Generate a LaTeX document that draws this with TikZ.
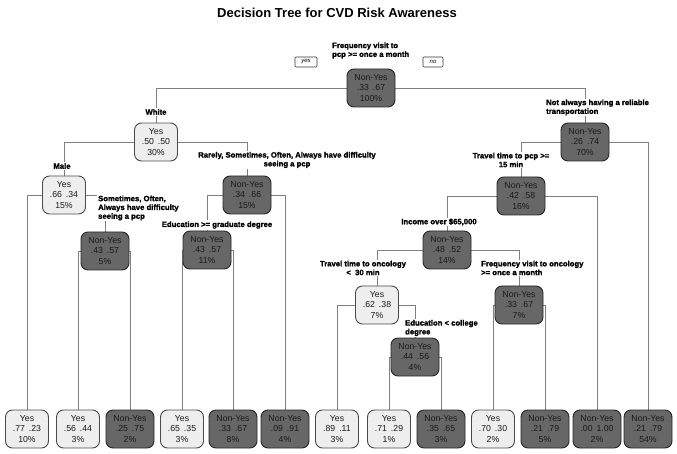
\documentclass[tikz,border=0pt]{standalone}
\usepackage{fontspec}
\setmainfont{Liberation Sans}
\newfontfamily\labfont[BoldFeatures={FakeBold=1.6}]{Liberation Sans}
\usetikzlibrary{backgrounds}
\definecolor{lightfill}{HTML}{EEEEEE}
\definecolor{lightborder}{HTML}{4A4A4A}
\definecolor{darkfill}{HTML}{676767}
\definecolor{nodetext}{HTML}{1A1A1A}
\definecolor{linegray}{HTML}{808080}
\begin{document}
\begin{tikzpicture}[x=1pt,y=-1pt,
 base/.style={rounded corners=7pt, align=center, inner sep=1pt, minimum height=38pt, font=\fontsize{8.7}{10.5}\selectfont, line width=0.9pt},
 ynode/.style={base, fill=lightfill, draw=lightborder, minimum width=43pt, text=nodetext},
 nnode/.style={base, fill=darkfill, draw=black!85, minimum width=48pt, text=nodetext},
 lab/.style={fill=white, inner sep=1pt, font=\labfont\fontsize{7.7}{8.8}\selectfont\bfseries},
 edge/.style={draw=linegray, line width=0.9pt},
 tag/.style={draw=black!80, rounded corners=1pt, inner sep=0pt, minimum height=10pt, font=\fontsize{6}{6}\selectfont\itshape, line width=0.6pt}]
\useasboundingbox (0,0) rectangle (677,454);
% title
\node[font=\fontsize{13}{15}\selectfont\bfseries] (title) at (337,13) {Decision Tree for CVD Risk Awareness};
% internal nodes
\node[nnode] (root) at (371,88) {Non-Yes\\.33\hspace{4pt}.67\\100\%};
\node[ynode] (white) at (156,142) {Yes\\.50\hspace{4pt}.50\\30\%};
\node[nnode] (transp) at (585,142) {Non-Yes\\.26\hspace{4pt}.74\\70\%};
\node[ynode] (male) at (64,195) {Yes\\.66\hspace{4pt}.34\\15\%};
\node[nnode] (n15) at (247,195) {Non-Yes\\.34\hspace{4pt}.66\\15\%};
\node[nnode] (travel) at (521,196) {Non-Yes\\.42\hspace{4pt}.58\\16\%};
\node[nnode] (n5) at (105,251) {Non-Yes\\.43\hspace{4pt}.57\\5\%};
\node[nnode] (n11) at (207,250) {Non-Yes\\.43\hspace{4pt}.57\\11\%};
\node[nnode] (income) at (447,250) {Non-Yes\\.48\hspace{4pt}.52\\14\%};
\node[ynode] (onc) at (377,305) {Yes\\.62\hspace{4pt}.38\\7\%};
\node[nnode] (n7) at (519,305) {Non-Yes\\.33\hspace{4pt}.67\\7\%};
\node[nnode] (n4) at (415,357) {Non-Yes\\.44\hspace{4pt}.56\\4\%};
% leaves
\node[ynode] (l1) at (27,429) {Yes\\.77\hspace{4pt}.23\\10\%};
\node[ynode] (l2) at (78,429) {Yes\\.56\hspace{4pt}.44\\3\%};
\node[nnode] (l3) at (130,429) {Non-Yes\\.25\hspace{4pt}.75\\2\%};
\node[ynode] (l4) at (182,429) {Yes\\.65\hspace{4pt}.35\\3\%};
\node[nnode] (l5) at (233,429) {Non-Yes\\.33\hspace{4pt}.67\\8\%};
\node[nnode] (l6) at (285,429) {Non-Yes\\.09\hspace{4pt}.91\\4\%};
\node[ynode] (l7) at (337,429) {Yes\\.89\hspace{4pt}.11\\3\%};
\node[ynode] (l8) at (389,429) {Yes\\.71\hspace{4pt}.29\\1\%};
\node[nnode] (l9) at (441,429) {Non-Yes\\.35\hspace{4pt}.65\\3\%};
\node[ynode] (l10) at (493,429) {Yes\\.70\hspace{4pt}.30\\2\%};
\node[nnode] (l11) at (545,429) {Non-Yes\\.21\hspace{4pt}.79\\5\%};
\node[nnode] (l12) at (597,429) {Non-Yes\\.00\hspace{4pt}1.00\\2\%};
\node[nnode] (l13) at (648,429) {Non-Yes\\.21\hspace{4pt}.79\\54\%};
% split labels
\node[lab, anchor=west, align=left] (q1) at (331,50.5) {Frequency visit to\\pcp >= once a month};
\node[tag, minimum width=22pt] (yes) at (306,62) {yes};
\node[tag, minimum width=20pt] (no) at (433,62) {no};
\node[lab] (q2) at (156,112) {White};
\node[lab, anchor=west, align=left] (q3) at (545,107.5) {Not always having a reliable\\transportation};
\node[lab] (q4) at (62,166) {Male};
\node[lab, align=center] (q5) at (287,160) {Rarely, Sometimes, Often, Always have difficulty\\seeing a pcp};
\node[lab, anchor=west, align=left] (q6) at (97,208) {Sometimes, Often,\\Always have difficulty\\seeing a pcp};
\node[lab] (q7) at (217,225) {Education >= graduate degree};
\node[lab, align=center] (q8) at (511,160) {Travel time to pcp >=\\15 min};
\node[lab] (q9) at (439,222) {Income over \$65,000};
\node[lab, align=center] (q10) at (363,268) {Travel time to oncology\\<\ \ 30 min};
\node[lab, anchor=west, align=left] (q11) at (480,268) {Frequency visit to oncology\\>= once a month};
\node[lab, anchor=west, align=left] (q12) at (404,328) {Education < college\\degree};
% connectors
\begin{scope}[on background layer]
\draw[edge] (root.center) -| (white.north);
\draw[edge] (root.center) -| (transp.north);
\draw[edge] (white.center) -| (male.north);
\draw[edge] (white.center) -| (n15.north);
\draw[edge] (male.center) -| (l1.north);
\draw[edge] (male.center) -| (n5.north);
\draw[edge] (n5.center) -| (l2.north);
\draw[edge] (n5.center) -| (l3.north);
\draw[edge] (n15.center) -| (n11.north);
\draw[edge] (n15.center) -| (l6.north);
\draw[edge] (n11.center) -| (l4.north);
\draw[edge] (n11.center) -| (l5.north);
\draw[edge] (transp.center) -| (travel.north);
\draw[edge] (transp.center) -| (l13.north);
\draw[edge] (travel.center) -| (income.north);
\draw[edge] (travel.center) -| (l12.north);
\draw[edge] (income.center) -| (onc.north);
\draw[edge] (income.center) -| (n7.north);
\draw[edge] (onc.center) -| (l7.north);
\draw[edge] (onc.center) -| (n4.north);
\draw[edge] (n4.center) -| (l8.north);
\draw[edge] (n4.center) -| (l9.north);
\draw[edge] (n7.center) -| (l10.north);
\draw[edge] (n7.center) -| (l11.north);
\end{scope}
\end{tikzpicture}
\end{document}
